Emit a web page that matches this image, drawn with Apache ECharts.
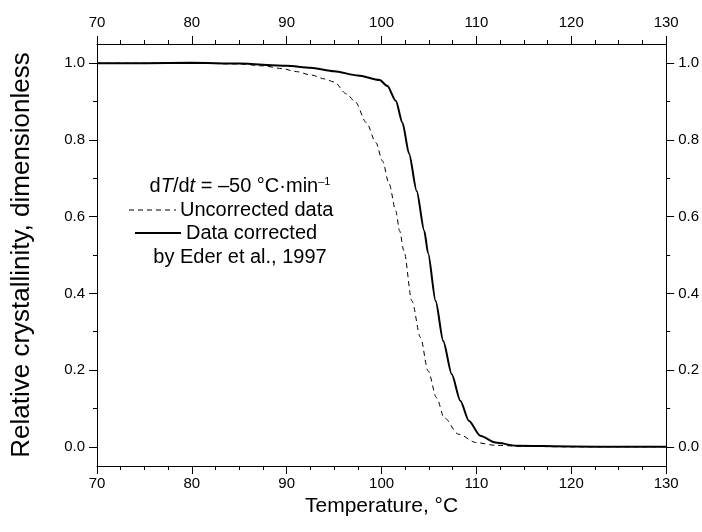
<!DOCTYPE html>
<html><head><meta charset="utf-8">
<script src="https://cdn.jsdelivr.net/npm/echarts@6/dist/echarts.min.js"></script>
<style>html,body{margin:0;padding:0;background:#fff}#c{width:702px;height:532px}</style>
</head><body><div id="c"></div>
<script>
// ---- data ----
const tempUncorrected = [70, 80, 85, 87.5, 89.5, 91, 92.6, 94, 95, 96.3, 97.2, 98.4, 99.4, 100.1, 100.8, 101.5, 101.9, 102.35, 103.2, 104.1, 104.9, 105.8, 106.6, 108.1, 110.0, 112.0, 115, 120, 130];
const crystUncorrected = [1.0, 1.0, 0.998, 0.993, 0.986, 0.978, 0.969, 0.959, 0.951, 0.92, 0.9, 0.845, 0.793, 0.745, 0.685, 0.615, 0.563, 0.511, 0.38, 0.285, 0.198, 0.128, 0.076, 0.033, 0.011, 0.004, 0.001, 0, 0];
const tempCorrected = [70, 75, 80, 85, 90, 92.5, 95, 97.5, 99.8, 100.6, 101.5, 102.2, 102.9, 103.7, 104.5, 104.9, 105.7, 106.5, 107.4, 108.3, 109.2, 110.4, 112.0, 114.2, 120, 125, 130];
const crystCorrected = [1.0, 1.0, 1.001, 0.999, 0.993, 0.988, 0.979, 0.968, 0.956, 0.941, 0.902, 0.845, 0.764, 0.667, 0.563, 0.505, 0.38, 0.276, 0.189, 0.12, 0.068, 0.029, 0.011, 0.003, 0.001, 0.0, 0.0];
const yTicks = [0, 0.2, 0.4, 0.6, 0.8, 1.0];
const yMinorTicks = [0.1, 0.3, 0.5, 0.7, 0.9];
const xLabel = 'Temperature, °C';
const yLabel = 'Relative crystallinity, dimensionless';
const seriesNames = ['Uncorrected data', 'Data corrected'];
const noteLine1 = '{n|d}{i|T}{n|/d}{i|t}{n| = –50 °C·min}{s|–1}';
const noteLine4 = 'by Eder et al., 1997';

const FONT = '"Liberation Sans", Arial, Helvetica, sans-serif';
const BLACK = '#000';
const lineBlack = {color: BLACK, width: 1};

function xAxis(pos) {
  return {
    type: 'value', position: pos, min: 70, max: 130, interval: 10,
    axisLine: {show: true, onZero: false, lineStyle: lineBlack},
    axisTick: {show: true, length: 8, lineStyle: lineBlack},
    minorTick: {show: true, splitNumber: 4, length: 4, lineStyle: lineBlack},
    splitLine: {show: false}, minorSplitLine: {show: false},
    axisLabel: {show: true, margin: pos === 'bottom' ? 10 : 14, color: BLACK, fontSize: 15, fontFamily: FONT},
    name: pos === 'bottom' ? xLabel : '',
    nameLocation: 'middle', nameGap: 29,
    nameTextStyle: {color: BLACK, fontSize: 21, fontFamily: FONT}
  };
}
function yMajor(pos) {
  return {
    type: 'value', position: pos, min: -0.05, max: 1.05,
    axisLine: {show: true, onZero: false, lineStyle: lineBlack},
    axisTick: {show: true, length: 8, customValues: yTicks, lineStyle: lineBlack},
    axisLabel: {show: true, customValues: yTicks, formatter: v => v.toFixed(1),
      margin: 12, color: BLACK, fontSize: 15, fontFamily: FONT},
    splitLine: {show: false},
    name: pos === 'left' ? yLabel : '',
    nameLocation: 'middle', nameGap: 62,
    nameTextStyle: {color: BLACK, fontSize: 26, fontFamily: FONT}
  };
}
function yMinor(pos) {
  return {
    type: 'value', position: pos, min: -0.05, max: 1.05,
    axisLine: {show: false},
    axisTick: {show: true, length: 4, customValues: yMinorTicks, lineStyle: lineBlack},
    axisLabel: {show: false},
    splitLine: {show: false}
  };
}

const chart = echarts.init(document.getElementById('c'), null, {renderer: 'canvas'});
chart.setOption({
  backgroundColor: '#fff',
  animation: false,
  grid: {left: 97, right: 31, top: 44, bottom: 66, containLabel: false},
  xAxis: [xAxis('bottom'), xAxis('top')],
  yAxis: [yMajor('left'), yMajor('right'), yMinor('left'), yMinor('right')],
  series: [
    {
      name: seriesNames[0], type: 'line', xAxisIndex: 0, yAxisIndex: 0,
      data: tempUncorrected.map((t, i) => [t, crystUncorrected[i]]),
      symbol: 'none', smooth: 0.3, smoothMonotone: 'x',
      lineStyle: {color: BLACK, width: 1, type: [5, 4]}
    },
    {
      name: seriesNames[1], type: 'line', xAxisIndex: 0, yAxisIndex: 0,
      data: tempCorrected.map((t, i) => [t, crystCorrected[i]]),
      symbol: 'none', smooth: 0.25, smoothMonotone: 'x',
      lineStyle: {color: BLACK, width: 2}
    }
  ],
  graphic: [
    {type: 'text', x: 240, y: 186, style: {
      text: noteLine1, align: 'center', verticalAlign: 'middle', fill: BLACK,
      rich: {
        n: {fontSize: 20, fontFamily: FONT, fill: BLACK},
        i: {fontSize: 20, fontFamily: FONT, fontStyle: 'italic', fill: BLACK},
        s: {fontSize: 11, fontFamily: FONT, verticalAlign: 'top', fill: BLACK}
      }
    }},
    {type: 'line', shape: {x1: 129, y1: 210, x2: 176, y2: 210},
      style: {stroke: BLACK, lineWidth: 1, lineDash: [5, 4]}},
    {type: 'text', x: 180, y: 210, style: {
      text: seriesNames[0], align: 'left', verticalAlign: 'middle', fill: BLACK,
      font: '20px ' + FONT}},
    {type: 'line', shape: {x1: 135, y1: 233, x2: 181, y2: 233},
      style: {stroke: BLACK, lineWidth: 2}},
    {type: 'text', x: 186, y: 233, style: {
      text: seriesNames[1], align: 'left', verticalAlign: 'middle', fill: BLACK,
      font: '20px ' + FONT}},
    {type: 'text', x: 240, y: 257, style: {
      text: noteLine4, align: 'center', verticalAlign: 'middle', fill: BLACK,
      font: '20px ' + FONT}}
  ]
});
</script></body></html>
